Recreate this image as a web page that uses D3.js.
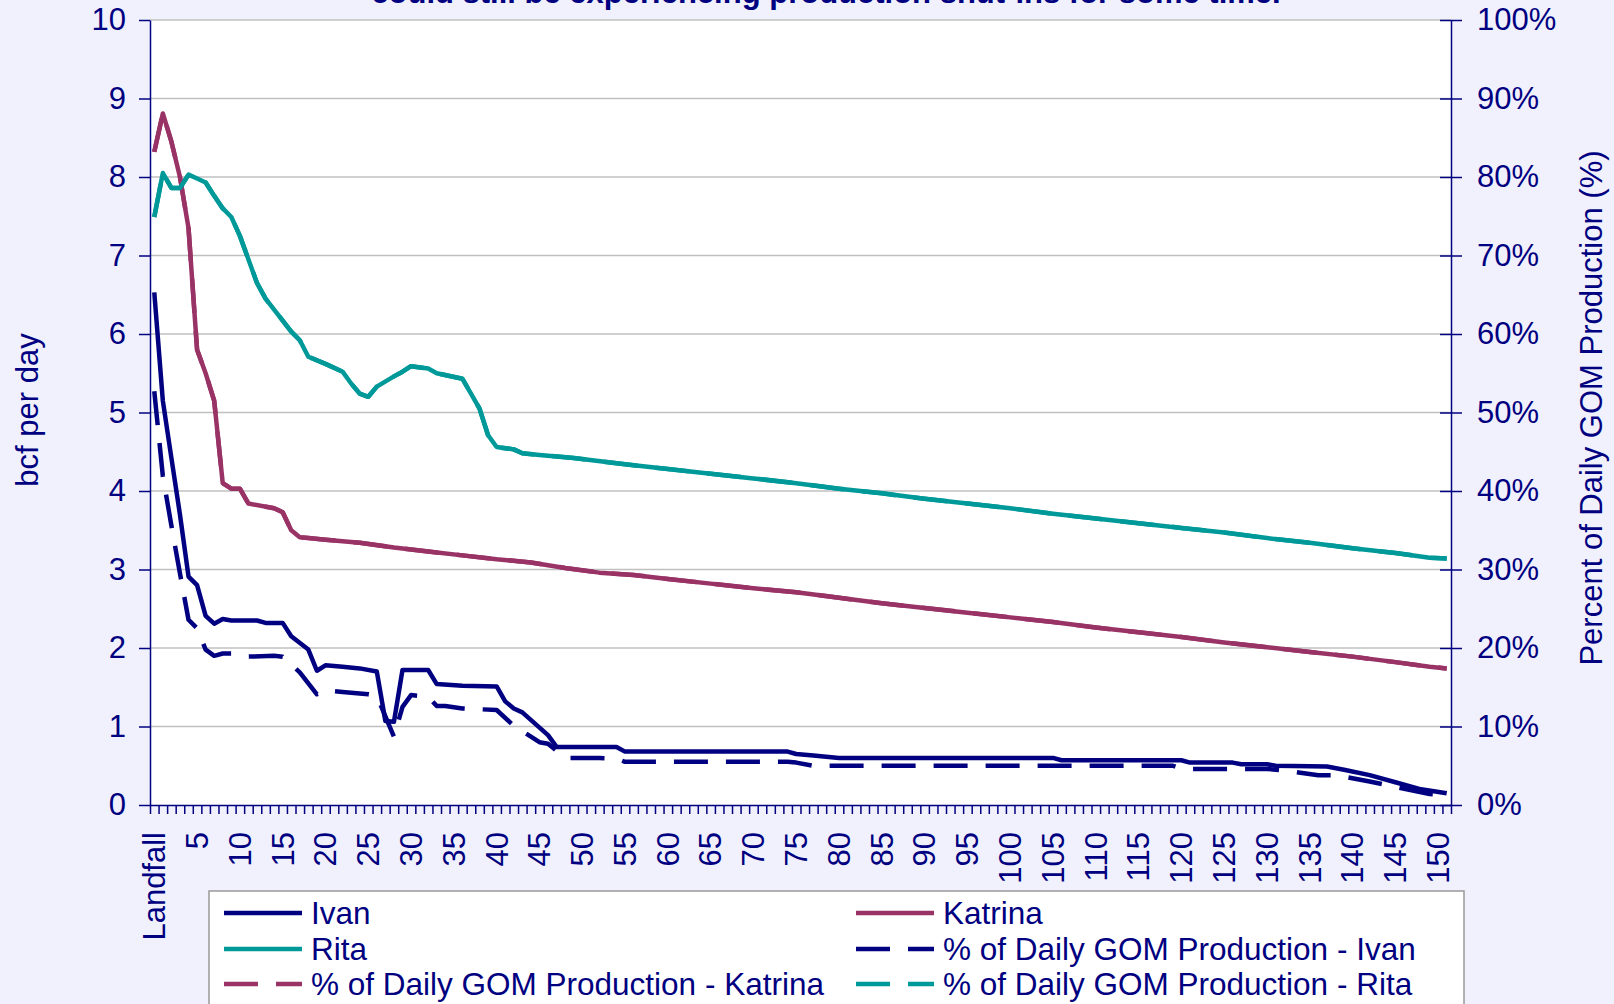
<!DOCTYPE html>
<html>
<head>
<meta charset="utf-8">
<title>GOM production shut-ins after landfall</title>
<script src="https://d3js.org/d3.v7.min.js"></script>
<style>
    body { margin: 0; background: #F1F1FD; }
    svg { display: block; font-family: Arial, "Liberation Sans", sans-serif; }
    .grid line { stroke: #c0c0c0; stroke-width: 1.5px; }
    .axis path, .axis line { stroke: #000080; stroke-width: 1.5px; }
    .axis text { fill: #000080; font-size: 31px; font-family: Arial, "Liberation Sans", sans-serif; }
    .lbl { fill: #000080; font-size: 31px; }
    .legend text { fill: #000080; font-size: 31.5px; }
</style>
</head>
<body>
<svg width="1614" height="1004"></svg>
<script>

    // days after landfall (0 = Landfall), labelled every 5 days
    var nDays = 152;
    var labelDays = [0, 5, 10, 15, 20, 25, 30, 35, 40, 45, 50, 55, 60, 65, 70, 75,
        80, 85, 90, 95, 100, 105, 110, 115, 120, 125, 130, 135, 140, 145, 150];
    var labelText = ["Landfall", "5", "10", "15", "20", "25", "30", "35", "40", "45", "50", "55",
        "60", "65", "70", "75", "80", "85", "90", "95", "100", "105", "110", "115",
        "120", "125", "130", "135", "140", "145", "150"];

    var leftTicks = [0, 1, 2, 3, 4, 5, 6, 7, 8, 9, 10];
    var rightTicks = [0, 10, 20, 30, 40, 50, 60, 70, 80, 90, 100];

    // shut-in production, bcf per day  [day, value]
    var ivanBcf = [[0, 6.53], [1, 5.15], [2, 4.42], [3, 3.7], [4, 2.91], [5, 2.8], [6, 2.41], [7, 2.31],
        [8, 2.37], [9, 2.35], [12, 2.35], [13, 2.32], [15, 2.32], [16, 2.15], [18, 1.98], [19, 1.71],
        [20, 1.78], [22, 1.76], [24, 1.74], [26, 1.7], [27, 1.07], [28, 1.06], [29, 1.72], [32, 1.72],
        [33, 1.54], [36, 1.52], [40, 1.51], [41, 1.32], [42, 1.23], [43, 1.18], [46, 0.89], [47, 0.74],
        [54, 0.74], [55, 0.68], [74, 0.68], [75, 0.65], [77, 0.63], [80, 0.6], [105, 0.6], [106, 0.57],
        [120, 0.57], [121, 0.54], [126, 0.54], [127, 0.52], [130, 0.52], [131, 0.5], [137, 0.49],
        [139, 0.45], [142, 0.38], [145, 0.29], [148, 0.2], [151, 0.15]];

    var katrinaBcf = [[0, 8.32], [1, 8.81], [2, 8.45], [3, 8.0], [4, 7.35], [5, 5.8], [6, 5.5], [7, 5.15],
        [8, 4.1], [9, 4.03], [10, 4.03], [11, 3.84], [14, 3.78], [15, 3.73], [16, 3.5], [17, 3.41],
        [18, 3.4], [20, 3.38], [24, 3.34], [28, 3.28], [32, 3.23], [36, 3.18], [40, 3.13], [44, 3.09],
        [48, 3.02], [52, 2.96], [56, 2.93], [60, 2.88], [65, 2.82], [70, 2.76], [75, 2.71], [80, 2.64],
        [85, 2.57], [90, 2.51], [95, 2.45], [100, 2.39], [105, 2.33], [110, 2.26], [115, 2.2],
        [120, 2.14], [125, 2.07], [130, 2.01], [135, 1.95], [140, 1.89], [145, 1.82], [149, 1.76],
        [151, 1.74]];

    var ritaBcf = [[0, 7.49], [1, 8.05], [2, 7.86], [3, 7.86], [4, 8.03], [5, 7.98], [6, 7.93], [7, 7.76],
        [8, 7.6], [9, 7.49], [10, 7.25], [12, 6.65], [13, 6.45], [16, 6.03], [17, 5.92], [18, 5.71],
        [20, 5.62], [22, 5.52], [23, 5.37], [24, 5.24], [25, 5.2], [26, 5.33], [28, 5.46], [29, 5.52],
        [30, 5.59], [32, 5.56], [33, 5.5], [36, 5.43], [37, 5.24], [38, 5.05], [39, 4.71], [40, 4.56],
        [42, 4.53], [43, 4.48], [45, 4.46], [49, 4.42], [55, 4.34], [60, 4.28], [65, 4.22], [70, 4.16],
        [75, 4.1], [80, 4.03], [85, 3.97], [90, 3.9], [95, 3.84], [100, 3.78], [105, 3.71], [110, 3.65],
        [115, 3.59], [120, 3.53], [125, 3.47], [130, 3.4], [135, 3.34], [140, 3.27], [145, 3.21],
        [149, 3.15], [151, 3.14]];

    // % of daily GOM production  [day, percent]
    var ivanPct = [[0, 52.7], [1, 41.9], [2, 35.6], [3, 29.5], [4, 23.6], [5, 22.5], [6, 19.8], [7, 19.0],
        [8, 19.3], [9, 19.3], [11, 18.9], [14, 19.0], [15, 18.9], [17, 16.9], [19, 14.1], [20, 14.6],
        [22, 14.4], [25, 14.1], [26, 13.9], [28, 8.7], [29, 12.5], [30, 14.0], [32, 13.8], [33, 12.6],
        [34, 12.6], [36, 12.3], [40, 12.1], [42, 10.1], [45, 8.0], [46, 7.8], [48, 6.0], [52, 6.0],
        [54, 5.9], [55, 5.5], [74, 5.5], [75, 5.4], [77, 5.0], [119, 5.0], [120, 4.6], [130, 4.6],
        [132, 4.4], [136, 3.8], [138, 3.8], [142, 3.0], [145, 2.3], [149, 1.4], [151, 1.2]];

    var katrinaPct = [[0, 83.2], [1, 88.1], [2, 84.5], [3, 80.0], [4, 73.5], [5, 58.0], [6, 55.0], [7, 51.5],
        [8, 41.0], [9, 40.3], [10, 40.3], [11, 38.4], [14, 37.8], [15, 37.3], [16, 35.0], [17, 34.1],
        [18, 34.0], [20, 33.8], [24, 33.4], [28, 32.8], [32, 32.3], [36, 31.8], [40, 31.3], [44, 30.9],
        [48, 30.2], [52, 29.6], [56, 29.3], [60, 28.8], [65, 28.2], [70, 27.6], [75, 27.1], [80, 26.4],
        [85, 25.7], [90, 25.1], [95, 24.5], [100, 23.9], [105, 23.3], [110, 22.6], [115, 22.0],
        [120, 21.4], [125, 20.7], [130, 20.1], [135, 19.5], [140, 18.9], [145, 18.2], [149, 17.6],
        [151, 17.4]];

    var ritaPct = [[0, 74.9], [1, 80.5], [2, 78.6], [3, 78.6], [4, 80.3], [5, 79.8], [6, 79.3], [7, 77.6],
        [8, 76.0], [9, 74.9], [10, 72.5], [12, 66.5], [13, 64.5], [16, 60.3], [17, 59.2], [18, 57.1],
        [20, 56.2], [22, 55.2], [23, 53.7], [24, 52.4], [25, 52.0], [26, 53.3], [28, 54.6], [29, 55.2],
        [30, 55.9], [32, 55.6], [33, 55.0], [36, 54.3], [37, 52.4], [38, 50.5], [39, 47.1], [40, 45.6],
        [42, 45.3], [43, 44.8], [45, 44.6], [49, 44.2], [55, 43.4], [60, 42.8], [65, 42.2], [70, 41.6],
        [75, 41.0], [80, 40.3], [85, 39.7], [90, 39.0], [95, 38.4], [100, 37.8], [105, 37.1], [110, 36.5],
        [115, 35.9], [120, 35.3], [125, 34.7], [130, 34.0], [135, 33.4], [140, 32.7], [145, 32.1],
        [149, 31.5], [151, 31.4]];

    var navy = "#000080", plum = "#993366", teal = "#009999";

    var svg = d3.select("svg");
    // plot area edges (note: "top" is a reserved window property, so use pTop etc.)
    var pLeft = 150, pRight = 1451, pTop = 20, pBottom = 805;

    var x = d3.scaleLinear().domain([-0.5, nDays - 0.5]).range([pLeft, pRight]);
    var yL = d3.scaleLinear().domain([0, 10]).range([pBottom, pTop]);
    var yR = d3.scaleLinear().domain([0, 100]).range([pBottom, pTop]);

    // plot area
    svg.append("rect").attr("x", pLeft).attr("y", pTop)
        .attr("width", pRight - pLeft).attr("height", pBottom - pTop).attr("fill", "#fff");

    svg.append("g").attr("class", "grid")
        .selectAll("line").data(leftTicks.slice(1)).enter().append("line")
        .attr("x1", pLeft).attr("x2", pRight)
        .attr("y1", function(d) { return yL(d); })
        .attr("y2", function(d) { return yL(d); });

    // title (mostly above the visible area)
    svg.append("text").attr("x", 826).attr("y", 3).attr("text-anchor", "middle")
        .attr("fill", navy).attr("font-weight", "bold").attr("font-size", 31)
        .text("could still be experiencing production shut-ins for some time.");

    // axes
    svg.append("g").attr("class", "axis")
        .attr("transform", "translate(" + pLeft + ",0)")
        .call(d3.axisLeft(yL).tickValues(leftTicks).tickSize(11).tickSizeOuter(0).tickPadding(13));

    var ra = svg.append("g").attr("class", "axis")
        .attr("transform", "translate(" + pRight + ",0)")
        .call(d3.axisRight(yR).tickValues(rightTicks).tickSize(11).tickSizeOuter(0).tickPadding(15)
            .tickFormat(function(d) { return d + "%"; }));
    ra.selectAll(".tick line").attr("x1", -11);

    svg.append("g").attr("class", "axis")
        .attr("transform", "translate(0," + pBottom + ")")
        .call(d3.axisBottom(x).tickValues(d3.range(-0.5, nDays, 1)).tickFormat("").tickSize(9).tickSizeOuter(0));

    svg.append("g").selectAll("text").data(labelDays).enter().append("text")
        .attr("class", "lbl")
        .attr("transform", function(d) { return "translate(" + x(d) + ",832) rotate(-90)"; })
        .attr("dy", "0.35em")
        .attr("text-anchor", "end")
        .text(function(d, i) { return labelText[i]; });

    svg.append("text").attr("class", "lbl")
        .attr("transform", "translate(27,410) rotate(-90)")
        .attr("dy", "0.35em").attr("text-anchor", "middle")
        .text("bcf per day");

    svg.append("text").attr("class", "lbl")
        .attr("transform", "translate(1591,408) rotate(-90)")
        .attr("dy", "0.35em").attr("text-anchor", "middle")
        .text("Percent of Daily GOM Production (%)");

    // series
    var lineL = d3.line().x(function(d) { return x(d[0]); }).y(function(d) { return yL(d[1]); });
    var lineR = d3.line().x(function(d) { return x(d[0]); }).y(function(d) { return yR(d[1]); });

    var series = [
        { name: "Ivan", data: ivanBcf, line: lineL, color: navy, dash: null },
        { name: "Katrina", data: katrinaBcf, line: lineL, color: plum, dash: null },
        { name: "Rita", data: ritaBcf, line: lineL, color: teal, dash: null },
        { name: "% of Daily GOM Production - Ivan", data: ivanPct, line: lineR, color: navy, dash: "34,18" },
        { name: "% of Daily GOM Production - Katrina", data: katrinaPct, line: lineR, color: plum, dash: "34,18" },
        { name: "% of Daily GOM Production - Rita", data: ritaPct, line: lineR, color: teal, dash: "34,18" }
    ];

    svg.append("g").selectAll("path").data(series).enter().append("path")
        .attr("d", function(s) { return s.line(s.data); })
        .attr("fill", "none")
        .attr("stroke", function(s) { return s.color; })
        .attr("stroke-width", 4.5)
        .attr("stroke-linejoin", "round")
        .attr("stroke-dasharray", function(s) { return s.dash; });

    // legend: two columns, filled row by row
    var lg = svg.append("g").attr("class", "legend");
    lg.append("rect").attr("x", 209).attr("y", 891).attr("width", 1255).attr("height", 130)
        .attr("fill", "#fff").attr("stroke", "#999").attr("stroke-width", 1.5);

    var cols = [224, 856], rows = [913, 949, 984];
    var items = lg.selectAll("g.item").data(series).enter().append("g")
        .attr("transform", function(s, i) {
            return "translate(" + cols[i % 2] + "," + rows[Math.floor(i / 2)] + ")";
        });
    items.append("line").attr("x1", 0).attr("x2", 78).attr("y1", 0).attr("y2", 0)
        .attr("stroke", function(s) { return s.color; })
        .attr("stroke-width", 4.5)
        .attr("stroke-dasharray", function(s) { return s.dash ? "34,18" : null; });
    items.append("text").attr("x", 87).attr("dy", "0.36em")
        .text(function(s) { return s.name; });

</script>
</body>
</html>
